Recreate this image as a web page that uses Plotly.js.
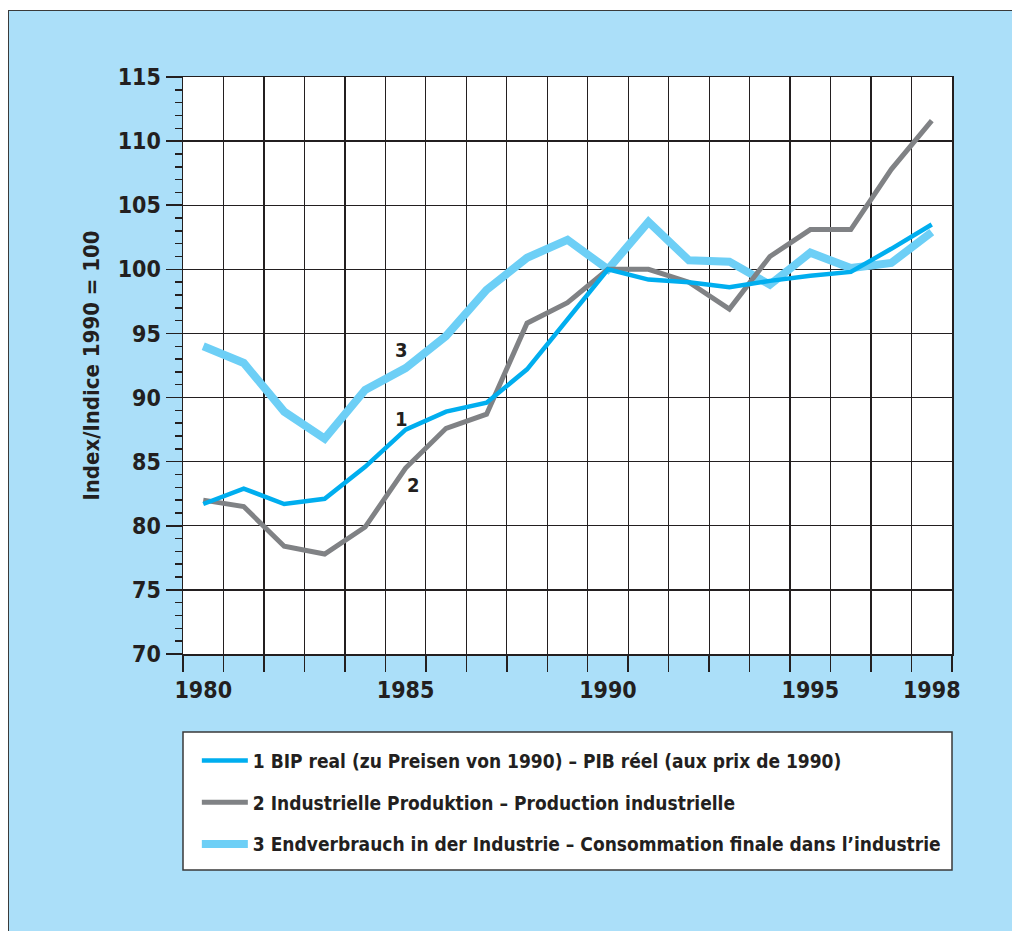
<!DOCTYPE html>
<html>
<head>
<meta charset="utf-8">
<script src="https://cdn.plot.ly/plotly-3.0.1.min.js"></script>
<style>
  html, body { margin: 0; padding: 0; background: #ffffff; width: 1012px; height: 931px; overflow: hidden; }
  #frame { position: absolute; left: 8px; top: 10px; width: 1010px; height: 930px;
           background: #abdff9; border-left: 1.5px solid #3a3a3a; border-top: 1.5px solid #3a3a3a; }
  #chart { position: absolute; left: 0; top: 0; width: 1012px; height: 931px; }
</style>
</head>
<body>
<div id="frame"></div>
<div id="chart"></div>
<script>
// ---- data ----
const years = [1980,1981,1982,1983,1984,1985,1986,1987,1988,1989,1990,1991,1992,1993,1994,1995,1996,1997,1998];
const bipReal = [81.7,82.9,81.7,82.1,84.6,87.5,88.9,89.6,92.2,96.1,100.0,99.2,99.0,98.6,99.1,99.5,99.8,101.6,103.5];
const industrieProduktion = [82.0,81.5,78.4,77.8,79.9,84.5,87.6,88.7,95.8,97.4,100.0,100.0,99.0,96.9,101.0,103.1,103.1,107.8,111.6];
const endverbrauch = [94.0,92.7,88.9,86.8,90.6,92.3,94.8,98.4,100.9,102.3,100.0,103.7,100.7,100.6,98.8,101.3,100.1,100.5,102.9];
const seriesNames = [
  "1 BIP real (zu Preisen von 1990) – PIB réel (aux prix de 1990)",
  "2 Industrielle Produktion – Production industrielle",
  "3 Endverbrauch in der Industrie – Consommation finale dans l’industrie"
];
const xTickVals = [1980,1985,1990,1995,1998];
const xTickText = ["1980","1985","1990","1995","1998"];
const lineLabels = ["1","2","3"];
const lineLabelX = [1984.9,1985.2,1984.9];
const lineLabelY = [88.3,83.2,93.7];

const FONT = "'Liberation Sans Narrow', 'Arial Narrow', 'DejaVu Sans Condensed', sans-serif";
const TXT = "#231f20";
const GRID = "#231f20";

const traces = [
  {x: years, y: bipReal, name: seriesNames[0], mode: "lines", legendgroup: "a", legendrank: 1,
   line: {color: "#00aeef", width: 4.5}},
  {x: years, y: industrieProduktion, name: seriesNames[1], mode: "lines", legendgroup: "b", legendrank: 2,
   line: {color: "#808285", width: 5}},
  {x: years, y: endverbrauch, name: seriesNames[2], mode: "lines", legendgroup: "c", legendrank: 3,
   line: {color: "#6dcff6", width: 8}}
];
// draw order: light blue below others
const ordered = [traces[2], traces[1], traces[0]];

const annotations = lineLabels.map((t, i) => ({
  x: lineLabelX[i], y: lineLabelY[i], xref: "x", yref: "y", text: "<b>" + t + "</b>",
  showarrow: false, font: {family: FONT, size: 20, color: TXT}
}));

const layout = {
  width: 1012, height: 931,
  margin: {l: 183, r: 60, t: 77, b: 277, pad: 0},
  paper_bgcolor: "rgba(0,0,0,0)",
  plot_bgcolor: "#ffffff",
  font: {family: FONT, color: TXT, size: 18},
  showlegend: true,
  xaxis: {
    range: [1979.5, 1998.5],
    tickmode: "array", tickvals: xTickVals, ticktext: xTickText,
    ticks: "outside", ticklen: 15, tickcolor: "rgba(0,0,0,0)",
    tickfont: {family: FONT, size: 23, color: TXT, weight: "bold"},
    showgrid: false, zeroline: false,
    showline: true, mirror: true, linecolor: GRID, linewidth: 1.5,
    minor: {tickmode: "linear", tick0: 1979.5, dtick: 1, ticks: "outside", ticklen: 16,
            tickcolor: GRID, tickwidth: 1.5, showgrid: true, gridcolor: GRID, gridwidth: 1.3}
  },
  yaxis: {
    range: [70, 115],
    tickmode: "linear", tick0: 70, dtick: 5,
    ticks: "outside", ticklen: 16, tickcolor: GRID, tickwidth: 1.5,
    tickfont: {family: FONT, size: 23, color: TXT, weight: "bold"},
    showgrid: true, gridcolor: GRID, gridwidth: 1.3, zeroline: false,
    showline: true, mirror: true, linecolor: GRID, linewidth: 1.5,
    minor: {tickmode: "linear", tick0: 70, dtick: 1, ticks: "outside", ticklen: 7,
            tickcolor: GRID, tickwidth: 1.5, showgrid: false},
    title: {text: "<b>Index/Indice 1990 = 100</b>", font: {family: FONT, size: 22, color: TXT}, standoff: 12}
  },
  legend: {
    x: 0.018, y: -0.152, xanchor: "left", yanchor: "top",
    bgcolor: "rgba(0,0,0,0)", borderwidth: 0,
    traceorder: "grouped", tracegroupgap: 14, itemwidth: 46,
    font: {family: FONT, size: 19, color: TXT, weight: "bold"}
  },
  shapes: [{
    type: "rect", xref: "paper", yref: "paper", x0: 0, x1: 1, y0: -0.3745, y1: -0.1353,
    fillcolor: "#ffffff", line: {color: "#3a3a3a", width: 1.5}, layer: "below"
  }],
  annotations: annotations
};

Plotly.newPlot("chart", ordered, layout, {displayModeBar: false, staticPlot: true});
</script>
</body>
</html>
